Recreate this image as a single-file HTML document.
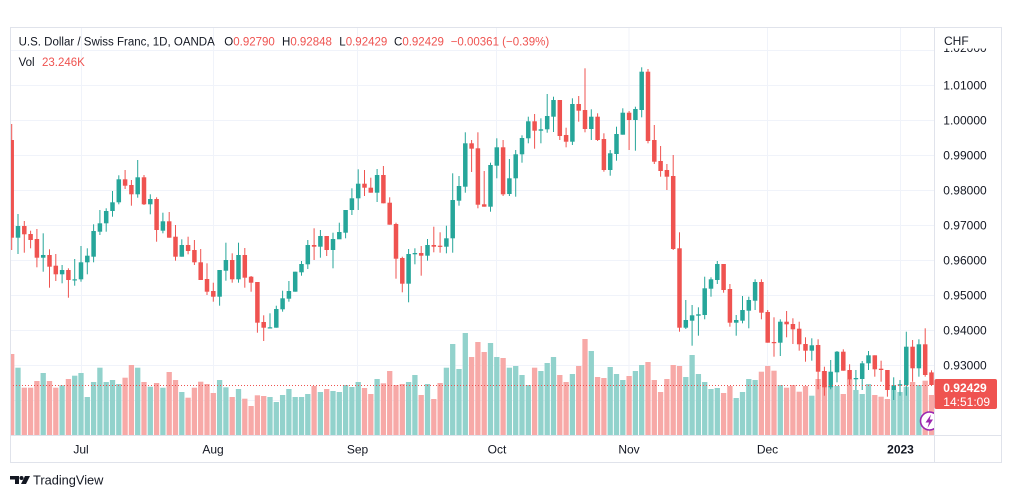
<!DOCTYPE html>
<html><head><meta charset="utf-8">
<style>
html,body{margin:0;padding:0;background:#fff;}
svg{display:block;font-family:"Liberation Sans",sans-serif;}
</style></head>
<body>
<svg id="s" width="1012" height="498" viewBox="0 0 1012 498" xmlns="http://www.w3.org/2000/svg">
<defs><clipPath id="cp"><rect x="10" y="28" width="924" height="407"/></clipPath></defs>
<rect x="0" y="0" width="1012" height="498" fill="#fff"/>
<g stroke="#f0f3fa" stroke-width="1">
<line x1="10" x2="934" y1="50.5" y2="50.5"/><line x1="10" x2="934" y1="85.5" y2="85.5"/><line x1="10" x2="934" y1="120.5" y2="120.5"/><line x1="10" x2="934" y1="155.5" y2="155.5"/><line x1="10" x2="934" y1="190.5" y2="190.5"/><line x1="10" x2="934" y1="225.5" y2="225.5"/><line x1="10" x2="934" y1="260.5" y2="260.5"/><line x1="10" x2="934" y1="295.5" y2="295.5"/><line x1="10" x2="934" y1="330.5" y2="330.5"/><line x1="10" x2="934" y1="365.5" y2="365.5"/><line x1="10" x2="934" y1="400.5" y2="400.5"/>
<line y1="28" y2="435" x1="81.5" x2="81.5"/><line y1="28" y2="435" x1="213.5" x2="213.5"/><line y1="28" y2="435" x1="357.5" x2="357.5"/><line y1="28" y2="435" x1="496.5" x2="496.5"/><line y1="28" y2="435" x1="629" x2="629"/><line y1="28" y2="435" x1="767.5" x2="767.5"/><line y1="28" y2="435" x1="900.5" x2="900.5"/>
</g>
<g id="plot" clip-path="url(#cp)"></g>
<line x1="10" x2="934" y1="385.5" y2="385.5" stroke="#ef5350" stroke-width="1" stroke-dasharray="1 2"/>
<g clip-path="url(#cp)">
<circle cx="929.5" cy="421" r="9" fill="#fff" stroke="#9c27b0" stroke-width="1.6"/>
<polygon points="931,414.5 925.5,422.5 929,422.5 927.5,428 933,419.5 929.7,419.5" fill="#9c27b0"/>
</g>
<rect x="10.5" y="27.5" width="991" height="435" fill="none" stroke="#e0e3eb"/>
<line x1="934.5" x2="934.5" y1="27.5" y2="462.5" stroke="#e0e3eb"/>
<line x1="10" x2="1002" y1="435.5" y2="435.5" stroke="#e0e3eb"/>
<g font-size="12" fill="#131722">
<text x="943.3" y="52">1.02000</text>
<text x="943.3" y="89.5">1.01000</text>
<text x="943.3" y="124.5">1.00000</text>
<text x="943.3" y="159.5">0.99000</text>
<text x="943.3" y="194.5">0.98000</text>
<text x="943.3" y="229.5">0.97000</text>
<text x="943.3" y="264.5">0.96000</text>
<text x="943.3" y="299.5">0.95000</text>
<text x="943.3" y="334.5">0.94000</text>
<text x="943.3" y="369.5">0.93000</text>
</g>
<rect x="935" y="28" width="66" height="20.5" fill="#fff"/>
<text x="944" y="45" font-size="12" fill="#131722">CHF</text>
<rect x="934.5" y="379" width="62.5" height="30" rx="2" fill="#ef5350"/>
<text x="943.3" y="391.8" font-size="12" font-weight="bold" fill="#fff">0.92429</text>
<text x="943.3" y="406" font-size="12" fill="#fff">14:51:09</text>
<g font-size="12" fill="#131722" text-anchor="middle">
<text x="81" y="453.5">Jul</text>
<text x="213" y="453.5">Aug</text>
<text x="357.5" y="453.5">Sep</text>
<text x="497" y="453.5">Oct</text>
<text x="629" y="453.5">Nov</text>
<text x="767.5" y="453.5">Dec</text>
<text x="900.5" y="453.5" font-weight="bold">2023</text>
</g>
<g font-size="11.5" fill="#131722">
<text x="18.6" y="45.7">U.S. Dollar / Swiss Franc, 1D, OANDA</text>
<text x="224.3" y="45.7">O<tspan fill="#ef5350">0.92790</tspan></text>
<text x="282" y="45.7">H<tspan fill="#ef5350">0.92848</tspan></text>
<text x="339.3" y="45.7">L<tspan fill="#ef5350">0.92429</tspan></text>
<text x="394" y="45.7">C<tspan fill="#ef5350">0.92429</tspan></text>
<text x="450.7" y="45.7" fill="#ef5350">−0.00361 (−0.39%)</text>
<text x="18.6" y="66">Vol</text>
<text x="42" y="66" fill="#ef5350">23.246K</text>
</g>
<g fill="#131722">
<path d="M10,476 h9 v8 h-4 v-4.5 h-5z"/>
<circle cx="21.5" cy="478" r="2"/>
<path d="M25,476 h5 l-4,8 h-5z"/>
</g>
<text x="33" y="484.5" font-size="12.8" fill="#131722">TradingView</text>
</svg>
<script>
var C=[[140,237.7,124,250],[237.7,226,214,254],[226,234.3,221,252.7],[234,240,230.7,248.3],[239,257.7,229,267.3],[257.7,255,233.3,271.7],[255,266.7,249.3,287.7],[265.7,274.3,254,281],[274.3,270,265,283.3],[270,280,268.3,297.7],
[280,279.3,259,285.7],[279.3,262.3,246,281.7],[262.3,255.7,248.3,274.3],[256.7,231,224.3,262.3],[231.7,223.3,210,235],[223.3,211,208.3,231.7],[211,202.3,191,216.7],[202.3,179.3,175.3,204.3],[179.3,185.7,170,189],[185,194.3,180,205.7],
[194.3,177.3,160,197.7],[177.3,204.3,175,205],[204.3,199,194.3,214.3],[199,230,197.3,241.7],[230.7,221.3,212.7,233.3],[221.3,237.7,212,237.7],[236.7,256.7,225,260.7],[256.7,245,239.3,256.7],[245,251,236.7,254.3],[250,262.3,240,265],
[262.3,280,249,280],[279,291.7,263.3,295],[291,296.7,282.7,301.7],[296.7,270,270,305.7],[270.7,260,242.7,280.7],[260,279.3,253.3,282.7],[279.3,255,242.7,282.7],[255,277.7,248,287.7],[276.7,282.7,276,291.7],[282,322.7,282,332.7],
[322,327.7,315.3,341],[327.7,327.3,313.3,327.7],[327.7,309,305.7,327.7],[309.3,298.3,290.7,311.7],[298.7,291,281,301.7],[291.7,271.7,271.7,291.7],[272.3,264,261,275.7],[264.3,245,240,269],[245,246.7,228.3,260],[246.7,236,230,257.7],
[236,250,236,256],[250,239,232.7,268.3],[239.3,232,222.7,238.3],[232.7,210,210,238.3],[210,198.3,188.3,215],[198.3,183.7,169.3,210],[183.7,187.7,170,196],[187.7,192.7,177.7,192.7],[192.7,175,169,202],[175,203.3,166,203.3],
[202.7,224.7,197.3,224.7],[224,258.7,222.7,278.7],[258,283.7,256.7,292.3],[283.7,254,249,302.3],[254.3,253,248.3,264.3],[253,255.7,246,275.7],[255.7,245,239,260.7],[245,246.7,226.7,252.3],[245.7,246.7,232.3,252.7],[246.7,238.3,225.7,253.3],
[238.3,200,173.3,252.7],[200.7,186,176,205.7],[186.7,143.3,132.3,192.7],[143.3,148.7,140,172],[148.3,204.7,132.3,208.3],[204.3,206.7,171,206.7],[206.7,165,162.7,211.7],[165.7,147.3,138.3,178.3],[147.3,194.3,140,196],[194,178.3,159,196],
[178.3,154.3,150,196.7],[154.3,138,135.3,162.7],[138.3,121.3,116.7,143.3],[121.3,130.7,114,148.7],[130.7,129.3,118.3,143.3],[129.3,116,94,132.7],[116.7,100,96.7,132],[100,136,100,140],[135,141.7,127.7,147.3],[141.7,104,98.3,145],
[104,110.7,96,121.7],[110,129,68.3,132.3],[129,116.7,109.3,140],[116.7,140,113.3,141],[139,170,133.3,171.7],[170,153.3,150,175.7],[154,134,126.7,160.7],[134.7,112.7,108.3,134.7],[112.7,120,111,150],[120,109,106.7,150.7],
[110,71.7,67.3,117.3],[71.7,141,69,143.3],[140,161.7,125,164],[161,171,146,176.7],[170,176.7,164,190],[176,249,155,250],[248.3,327.7,232.3,331.7],[327.7,320,300,329],[320.7,315.3,305,345.7],[315.7,314.3,307.3,335.7],
[315,288.3,276.7,319.3],[288.7,279.3,277.3,296.7],[280,264,261,284],[264,290,264,292.7],[289,322.7,284,326.7],[322.7,320,315,335.7],[320.7,310,296,323.3],[310.7,300,296.7,328.3],[300.7,282,279.3,310],[282,312.7,279.3,319.3],
[312,342.7,310,342.7],[342,342.6,317.3,356.7],[342.7,321.7,319.3,356],[321.7,324.3,311,337.3],[324,329.3,318.3,344],[328.7,344.3,321.7,350.7],[344,350.7,337.3,361.7],[350.7,345.3,338.3,360.7],[345,371.7,339.3,389.3],[371,387.3,366.7,395.7],
[387.3,371.7,360,389.3],[372.3,351.7,351,382.3],[351.7,370.7,349.3,370.7],[370,379.3,364.3,385],[379.3,378,370,390],[379,363.3,361,390],[363.3,355.3,351,370],[355.3,369.3,355.3,376.7],[368.7,370,360.7,381.7],[370,390,370,396.7],
[390,385.3,377.3,400],[385.3,384.3,380,395.7],[385,346.7,331.7,395.7],[346.7,368.3,340,381.7],[368.3,344.3,339.3,376.7],[344.3,375,328.3,376.7],[372.4,385,370.3,385]];
var V=[354,367.7,387.7,387.7,381,373,381,387.7,385.3,379,375.7,373,397,382,367.7,382,380,384,377.7,365,367.7,382,386.7,383,387.7,372,380,392,397.7,387.7,
381.7,384,393,380,387.3,397,389,398.7,406,395.3,396,397,402,395,389,397,397,394,386,392,389,391,392,385,387,382,388,394,379,383.3,
371,385,384,382,375,395,384,399,383,367.7,344,369,333,357,342,352,343,357,358,367.7,366,375,385,367.7,371,363,357,375,382,374,
366,339,351,377,378,367,374,380,376,371,365,362,380,392,379,365,366,377,355,374,382,389,388,393,386,398,392,379,380,371.7,
366,370.7,385,387.7,385,391.7,386,395.7,379,371,386,386,394,379,390,394,384,395,396.7,399,390,392,386.7,382,385,380.7,395];
var h='';
for(var i=0;i<C.length;i++){var x=11.7+i*6.3,d=C[i],g=d[1]<d[0];
h+='<rect x="'+(x-2.65).toFixed(2)+'" y="'+V[i]+'" width="5.3" height="'+(435-V[i]).toFixed(2)+'" fill="'+(g?'#92d2cc':'#f7a9a7')+'"/>';}
for(var i=0;i<C.length;i++){var x=11.7+i*6.3,d=C[i],g=d[1]<d[0],col=g?'#26a69a':'#ef5350';
var t=Math.min(d[0],d[1]),b=Math.max(d[0],d[1]);if(b-t<1.2){b=t+1.2;}
h+='<rect x="'+(x-0.5).toFixed(2)+'" y="'+d[2]+'" width="1" height="'+(d[3]-d[2]).toFixed(2)+'" fill="'+col+'"/>';
h+='<rect x="'+(x-2.25).toFixed(2)+'" y="'+t+'" width="4.5" height="'+(b-t).toFixed(2)+'" fill="'+col+'"/>';}
document.getElementById('plot').innerHTML=h;
</script>
</body></html>
